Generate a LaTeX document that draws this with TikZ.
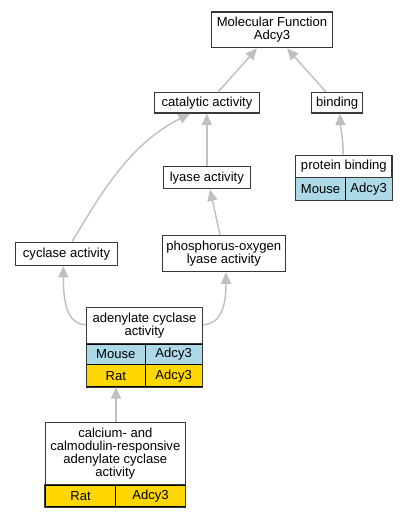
\documentclass[tikz,border=0pt]{standalone}
\usepackage{fontspec}
\setmainfont{Liberation Sans}
\usetikzlibrary{arrows.meta,calc}
\definecolor{edgegray}{HTML}{C0C0C0}
\definecolor{boxline}{HTML}{383838}
\definecolor{mouseblue}{HTML}{ADD8E6}
\definecolor{ratgold}{HTML}{FFD700}
\def\px{0.75pt}
\tikzset{
  box/.style={draw=boxline, line width=1.0pt, fill=white, inner sep=0pt, align=center,
    font=\fontsize{9.8}{9.9}\selectfont},
  cell/.style={draw=black, line width=0.75pt, inner sep=0pt, align=center,
    font=\fontsize{9.8}{9.9}\selectfont},
  mouse/.style={cell, fill=mouseblue},
  rat/.style={cell, fill=ratgold},
  edge/.style={draw=edgegray, line width=1.1pt,
    -{Triangle[length=8.6pt, width=7.6pt, fill=edgegray]}},
}
\begin{document}
\begin{tikzpicture}[x=0.75pt, y=-0.75pt]
\useasboundingbox (0,0) rectangle (408,517);
% nodes
\node[box, minimum width=120.6*\px, minimum height=35.7*\px] (mf) at (272,29.9) {Molecular Function\\Adcy3};
\node[box, minimum width=105.4*\px, minimum height=20.3*\px] (cat) at (207,102.9) {catalytic activity};
\node[box, minimum width=51*\px, minimum height=20.3*\px] (bind) at (337.2,102.9) {binding};
\node[box, minimum width=87*\px, minimum height=22*\px] (lyase) at (206.8,177.7) {lyase activity};
% protein binding
\node[box, minimum width=96.3*\px, minimum height=22.4*\px] (pb) at (343.85,166.5) {protein binding};
\node[mouse, minimum width=49.6*\px, minimum height=22.3*\px] (pbm) at (320.5,188.9) {Mouse};
\node[mouse, minimum width=46.7*\px, minimum height=22.3*\px] (pbg) at (368.65,188.9) {Adcy3};
\draw[boxline, line width=1.0pt] (pbm.north west) rectangle (pbg.south east);
\node[box, minimum width=101.6*\px, minimum height=23*\px] (cyc) at (66.5,253.8) {cyclase activity};
\node[box, minimum width=123*\px, minimum height=36*\px] (phos) at (223.8,253.7) {phosphorus-oxygen\\lyase activity};
% adenylate cyclase activity
\node[box, minimum width=115.6*\px, minimum height=36.3*\px] (adc) at (144.5,325.85) {adenylate cyclase\\activity};
\node[mouse, minimum width=58.3*\px, minimum height=20.7*\px] (adcm) at (115.85,354.35) {Mouse};
\node[mouse, minimum width=57.3*\px, minimum height=20.7*\px] (adcmg) at (173.65,354.35) {Adcy3};
\node[rat, minimum width=58.3*\px, minimum height=22*\px] (adcr) at (115.85,375.7) {Rat};
\node[rat, minimum width=57.3*\px, minimum height=22*\px] (adcrg) at (173.65,375.7) {Adcy3};
\draw[boxline, line width=1.0pt] (adcm.north west) rectangle (adcrg.south east);
% calcium
\node[box, minimum width=140*\px, minimum height=62.7*\px] (calc) at (115.3,453.65) {calcium- and\\calmodulin-responsive\\adenylate cyclase\\activity};
\node[rat, minimum width=70.4*\px, minimum height=21.7*\px] (calcr) at (80.5,495.85) {Rat};
\node[rat, minimum width=69.6*\px, minimum height=21.7*\px] (calcg) at (150.5,495.85) {Adcy3};
\draw[boxline, line width=1.0pt] (calcr.north west) rectangle (calcg.south east);
% edges
\draw[edge] ($(cat.north)+(11,0)$) -- ($(mf.south)+(-15,0)$);
\draw[edge] ($(bind.north)+(-11,0)$) -- ($(mf.south)+(15,0)$);
\draw[edge] (lyase.north) -- (lyase.north |- cat.south);
\draw[edge] ($(cyc.north)+(5.5,0)$) .. controls (95,205) and (125,146) .. ($(cat.south)+(-17,0)$);
\draw[edge] ($(phos.north)+(-3.8,0)$) -- ($(lyase.south)+(3.2,0)$);
\draw[edge] ($(pb.north)+(-0.8,0)$) .. controls (343.5,140) and (340.5,128) .. ($(bind.south)+(2.8,0)$);
\draw[edge] ($(adc.west)+(0,-1)$) .. controls (70,324) and (63.3,310) .. ($(cyc.south)+(-3.2,0)$);
\draw[edge] ($(adc.east)+(0,-1)$) .. controls (219,324) and (226,310) .. ($(phos.south)+(2.2,0)$);
\draw[edge] ($(calc.north)+(0.7,0)$) -- ($(adcr.south)+(0.15,0)$);
\end{tikzpicture}
\end{document}
